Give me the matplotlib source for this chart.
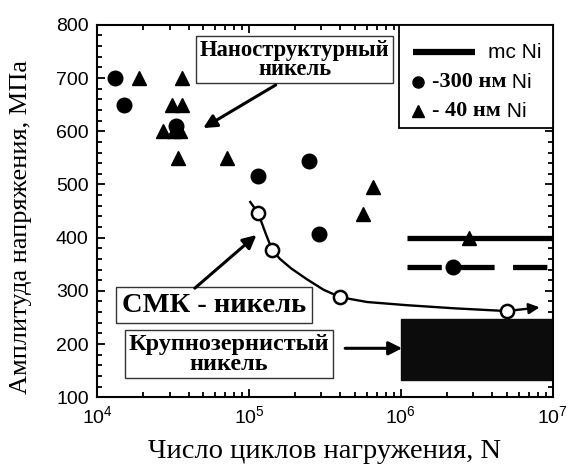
import numpy as np
import matplotlib
matplotlib.use("Agg")
import matplotlib.pyplot as plt
from matplotlib.patches import Rectangle
from matplotlib.ticker import MultipleLocator, LogLocator, NullFormatter

plt.rcParams['font.family'] = 'Liberation Sans'

# ~300 nm Ni (circles)
n300 = [1.31e4, 1.5e4, 3.3e4, 1.15e5, 2.5e5, 2.9e5, 2.2e6]
s300 = [700, 650, 610, 515, 545, 407, 345]

# ~40 nm Ni (triangles)
n40 = [1.9e4, 3.6e4, 3.1e4, 3.6e4, 2.7e4, 3.2e4, 3.5e4, 3.4e4, 7.2e4, 6.6e5, 5.6e5, 2.8e6]
s40 = [700, 700, 650, 650, 600, 600, 600, 550, 550, 495, 445, 400]

# UFG nickel - measured points and fitted curve
n_ufg = [1.15e5, 1.42e5, 4.0e5, 5.0e6]
s_ufg = [446, 377, 288, 262]
n_fit = [1.02e5, 1.15e5, 1.28e5, 1.42e5, 1.6e5, 1.9e5, 2.4e5, 3.1e5, 4.0e5,
         6.0e5, 1.1e6, 2.3e6, 5.0e6, 8.2e6]
s_fit = [467, 446, 410, 377, 360, 342, 322, 302, 288, 279, 273, 267, 262, 269]

# mc Ni endurance limits and coarse grained band
mc_n = [1.1e6, 1.0e7]
mc_s = 400
mc300_s = 345
coarse_n = [1.0e6, 1.0e7]
coarse_s = [133, 247]

fig = plt.figure(figsize=(5.71, 4.69), dpi=100)
ax = fig.add_axes([0.170, 0.153, 0.798, 0.794])
ax.set_xscale('log')
ax.set_xlim(1e4, 1e7)
ax.set_ylim(100, 800)

# coarse grained nickel band
ax.add_patch(Rectangle((coarse_n[0], coarse_s[0]), coarse_n[1] - coarse_n[0],
                       coarse_s[1] - coarse_s[0], color='#0c0c0c', zorder=2))

# mc Ni lines
ax.plot(mc_n, [mc_s, mc_s], color='black', lw=3.8, solid_capstyle='butt', zorder=3)
ax.plot(mc_n, [mc300_s, mc300_s], color='black', lw=3.8, dashes=(6.5, 3.5),
        dash_capstyle='butt', zorder=3)

ax.plot(n300, s300, 'o', color='black', ms=10.5, zorder=4)
ax.plot(n40, s40, '^', color='black', ms=10.5, zorder=4)

# fitted curve with arrow at the end
ax.plot(n_fit[:-1], s_fit[:-1], color='black', lw=1.7, zorder=3)
ax.annotate('', xy=(n_fit[-1], s_fit[-1]), xytext=(n_fit[-2], s_fit[-2]),
            arrowprops=dict(arrowstyle='-|>', color='black', lw=1.7,
                            mutation_scale=16, shrinkA=0, shrinkB=0), zorder=3)
ax.plot(n_ufg, s_ufg, 'o', mfc='white', mec='black', mew=1.8, ms=9.5, zorder=5)

# ticks
ax.yaxis.set_major_locator(MultipleLocator(100))
ax.yaxis.set_minor_locator(MultipleLocator(20))
ax.xaxis.set_major_locator(LogLocator(base=10, numticks=10))
ax.xaxis.set_minor_locator(LogLocator(base=10, subs=np.arange(2, 10), numticks=20))
ax.xaxis.set_minor_formatter(NullFormatter())
ax.tick_params(which='both', direction='in', top=True, right=True, width=1.3)
ax.tick_params(which='major', length=6, labelsize=14, pad=6)
ax.tick_params(which='minor', length=3.5)
for sp in ax.spines.values():
    sp.set_linewidth(1.5)

ax.set_xlabel('Число циклов нагружения, N', family='Liberation Serif', fontsize=20.5, labelpad=8)
ax.set_ylabel('Амплитуда напряжения, МПа', family='Liberation Serif', fontsize=19)
ax.yaxis.set_label_coords(-0.142, 0.457)

boxkw = dict(boxstyle='square,pad=0.25', fc='white', ec='#333333', lw=1.0)
arrowkw = dict(arrowstyle='-|>', color='black', lw=2.2, mutation_scale=20,
               shrinkA=0, shrinkB=0)

ax.text(2.0e5, 734, 'Наноструктурный\nникель', family='Liberation Serif',
        weight='bold', fontsize=16.3, ha='center', va='center', linespacing=0.86,
        bbox=dict(boxkw, boxstyle='square,pad=0.16'), zorder=6)
ax.annotate('', xy=(5.0e4, 606), xytext=(1.5e5, 687), arrowprops=arrowkw, zorder=6)

ax.text(5.9e4, 273, 'СМК - никель', family='Liberation Serif',
        weight='bold', fontsize=20.5, ha='center', va='center',
        bbox=dict(boxkw, boxstyle='square,pad=0.2'), zorder=6)
ax.annotate('', xy=(1.12e5, 405), xytext=(4.4e4, 305), arrowprops=arrowkw, zorder=6)

ax.text(7.4e4, 181, 'Крупнозернистый\nникель', family='Liberation Serif',
        weight='bold', fontsize=17.5, ha='center', va='center', linespacing=0.93,
        bbox=dict(boxkw, boxstyle='square,pad=0.16'), zorder=6)
ax.annotate('', xy=(1.02e6, 192), xytext=(4.3e5, 192), arrowprops=arrowkw, zorder=6)

# legend box
ax.add_patch(Rectangle((0.662, 0.723), 0.338, 0.277, transform=ax.transAxes,
                       fc='white', ec='black', lw=1.3, zorder=7))
ax.plot([0.694, 0.830], [0.927, 0.927], transform=ax.transAxes, color='black',
        lw=4.5, solid_capstyle='butt', zorder=8)
ax.plot([0.705], [0.847], 'o', transform=ax.transAxes, color='black', ms=8, zorder=8)
ax.plot([0.705], [0.770], '^', transform=ax.transAxes, color='black', ms=8, zorder=8)
ax.text(0.858, 0.927, 'mc Ni', transform=ax.transAxes, fontsize=15,
        va='center', ha='left', zorder=8)
t1 = ax.text(0.735, 0.847, '-300 нм', transform=ax.transAxes, family='Liberation Serif',
             weight='bold', fontsize=16, va='center', ha='left', zorder=8)
t2 = ax.text(0.735, 0.770, '- 40 нм', transform=ax.transAxes, family='Liberation Serif',
             weight='bold', fontsize=16, va='center', ha='left', zorder=8)
for t in (t1, t2):
    ax.annotate(' Ni', xy=(1, 0), xycoords=t, va='bottom', ha='left',
                fontsize=15, zorder=8)

fig.savefig('out.png', dpi=100)
